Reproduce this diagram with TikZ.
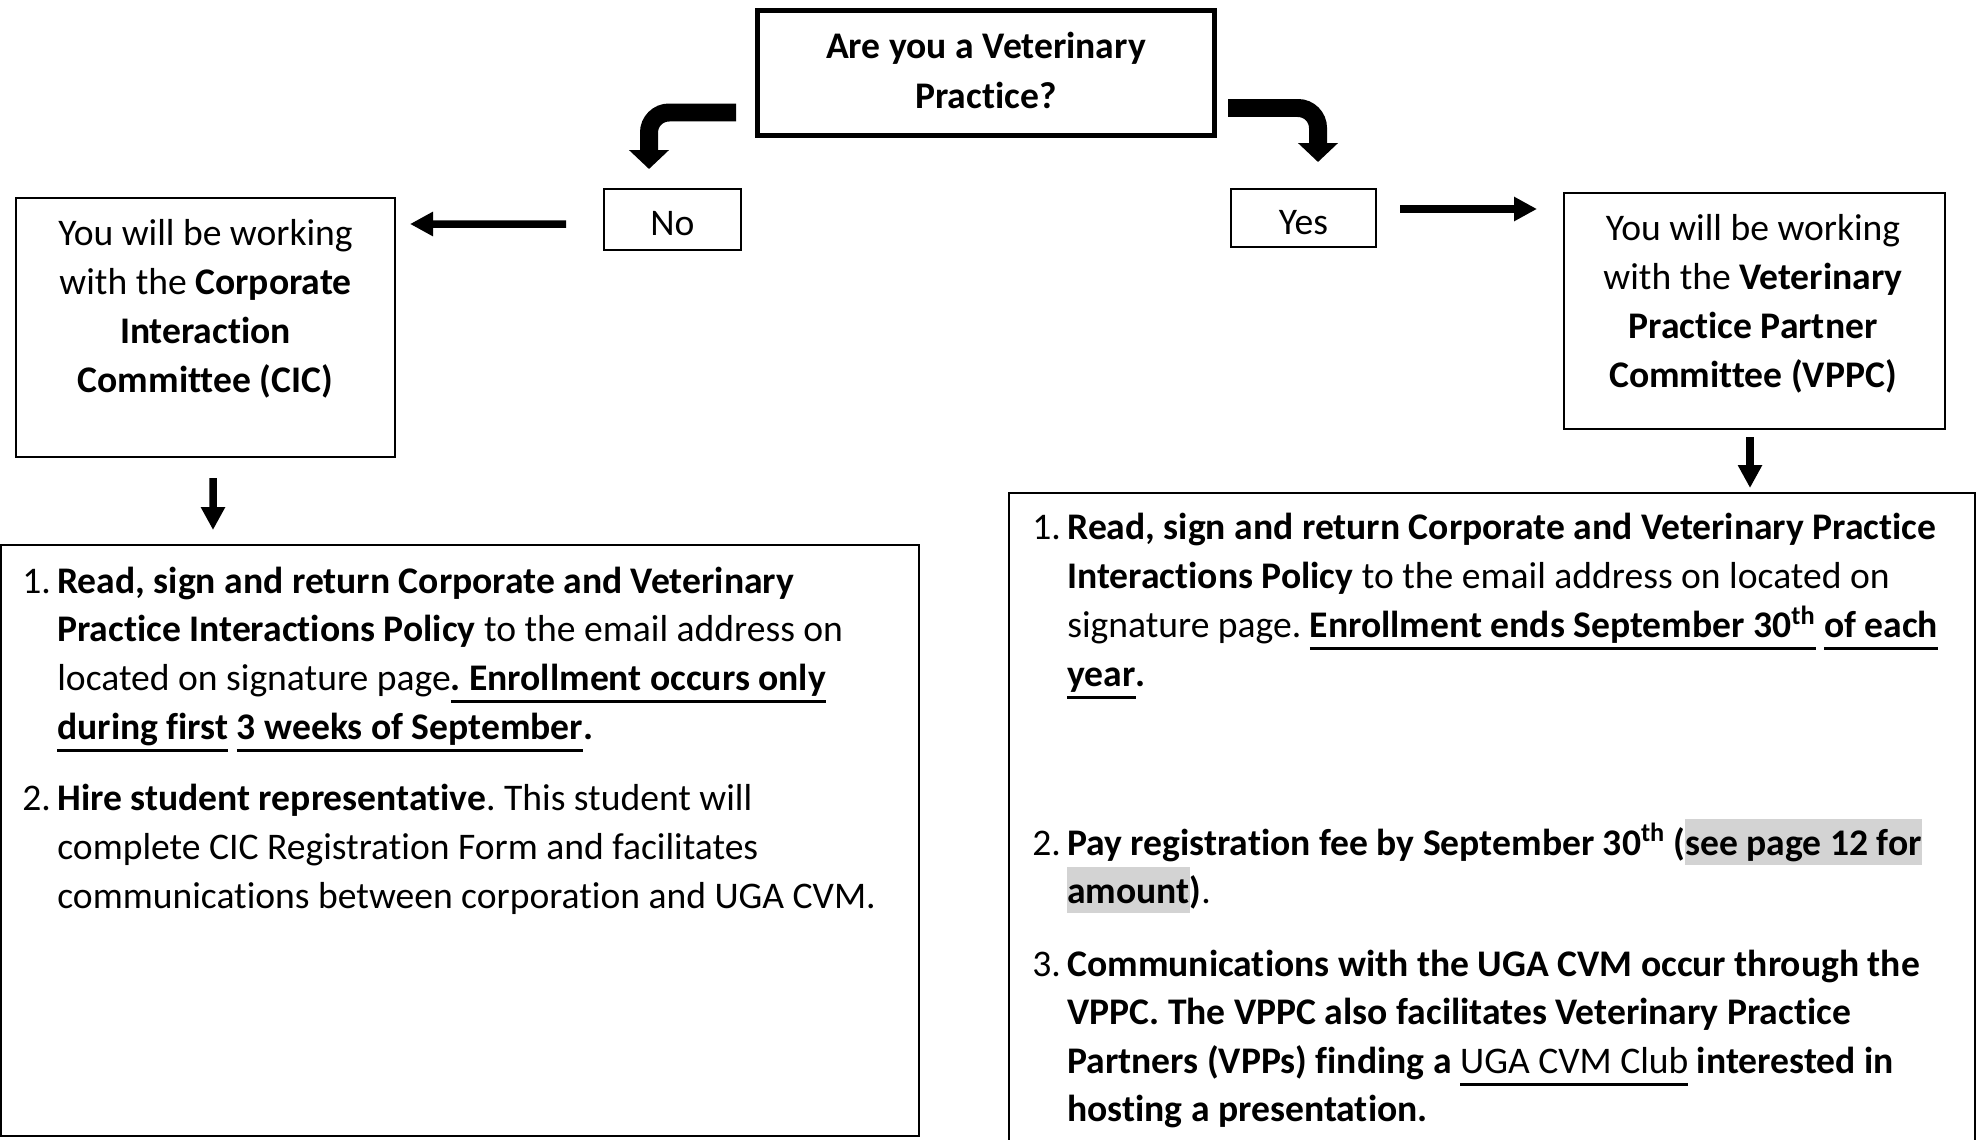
\documentclass[tikz,border=0pt]{standalone}
\usepackage{fontspec}
\setmainfont{Carlito}[Ligatures=NoCommon]
\usepackage{tikz}
\usetikzlibrary{arrows.meta}

\definecolor{hlgray}{RGB}{211,211,211}
\newlength{\pxu}
\setlength{\pxu}{0.02cm}
\newcommand{\ulbar}[1]{\setbox0\hbox{#1}\rlap{\rule[-0.34em]{\wd0}{0.085em}}\box0\relax}
\newcommand{\hlgrey}[1]{{\setlength{\fboxsep}{0pt}\colorbox{hlgray}{\rule[-0.27em]{0pt}{1.22em}#1}}}

\begin{document}
\frenchspacing
\begin{tikzpicture}[x=0.02cm,y=-0.02cm,
  font=\fontsize{21.4pt}{27.6pt}\selectfont,
  box/.style={draw,rectangle,inner sep=0pt,outer sep=0pt,line width=1.1pt},
  qbox/.style={box,line width=0.1cm},
  txt/.style={inner sep=0pt,anchor=base west},
  ctxt/.style={inner sep=0pt,anchor=base},
  fatarrow/.style={line width=0.36cm,rounded corners=0.4cm,-{Triangle[width=0.78cm,length=0.38cm]}},
  thinarrow/.style={line width=0.15cm,-{Triangle[width=0.46cm,length=0.46cm]}}]
  \clip (0,0) rectangle (1977,1139) ; %Picture size

  \node[qbox,minimum width=457\pxu,minimum height=125\pxu] (q) at (986,73) {} ; %Question box
  \node[ctxt] (q1) at (986,58) {\textbf{Are you a Veterinary}} ; %Question line 1
  \node[ctxt] (q2) at (986,108) {\textbf{Practice?}} ; %Question line 2

  \node[box,text depth=0pt,text height=0.62cm,minimum width=137\pxu,minimum height=61\pxu] (no) at (672.5,219.5) {No} ; %No box
  \node[box,text depth=0pt,text height=0.68cm,minimum width=145\pxu,minimum height=58\pxu] (yes) at (1303.5,218) {Yes} ; %Yes box

  \draw[fatarrow] ([shift={(-21.5,39.5)}]q.west) -| ([shift={(-23.5,-20)}]no.north) ; %Bent arrow to No
  \draw[fatarrow] ([shift={(13.5,35)}]q.east) -| ([shift={(14.5,-27)}]yes.north) ; %Bent arrow to Yes

  \node[box,minimum width=379\pxu,minimum height=259\pxu] (cic) at (205.5,327.5) {} ; %CIC box
  \node[ctxt] (cic1) at (205.5,245.5) {You will be working} ; %CIC line 1
  \node[ctxt] (cic2) at (205.5,294.5) {with the \textbf{Corporate}} ; %CIC line 2
  \node[ctxt] (cic3) at (205.5,343.5) {\textbf{Interaction}} ; %CIC line 3
  \node[ctxt] (cic4) at (205.5,392) {\textbf{Committee (CIC)}} ; %CIC line 4

  \node[box,minimum width=381\pxu,minimum height=236\pxu] (vppc) at (1754.5,311) {} ; %VPPC box
  \node[ctxt] (vppc1) at (1753,240.5) {You will be working} ; %VPPC line 1
  \node[ctxt] (vppc2) at (1753,289.5) {with the \textbf{Veterinary}} ; %VPPC line 2
  \node[ctxt] (vppc3) at (1753,338.5) {\textbf{Practice Partner}} ; %VPPC line 3
  \node[ctxt] (vppc4) at (1753,387) {\textbf{Committee (VPPC)}} ; %VPPC line 4

  \draw[thinarrow] ([shift={(-38,4.5)}]no.west) -- ([shift={(15,26)}]cic.north east) ; %No to CIC
  \draw[thinarrow] ([shift={(24,-9)}]yes.east) -- ([shift={(-27,16)}]vppc.north west) ; %Yes to VPPC

  \node[box,minimum width=918\pxu,minimum height=591\pxu] (lbox) at (460,840.5) {} ; %CIC steps box
  \node[box,minimum width=966\pxu,minimum height=667\pxu] (rbox) at (1492,826.5) {} ; %VPPC steps box

  \draw[thinarrow] ([shift={(7.5,21)}]cic.south) -- ([shift={(212,-15)}]lbox.north west) ; %CIC to steps
  \draw[thinarrow] ([shift={(-4.5,8)}]vppc.south) -- ([shift={(741,-5)}]rbox.north west) ; %VPPC to steps

  \node[txt] (ln1) at (22,593) {1.} ; %CIC step 1
  \node[txt] (lt1) at (57,593) {\textbf{Read, sign and return Corporate and Veterinary}} ;
  \node[txt] (lt2) at (57,641.5) {\textbf{Practice Interactions Policy} to the email address on} ;
  \node[txt] (lt3) at (57,690.5) {located on signature page\ulbar{\textbf{. Enrollment occurs only}}} ;
  \node[txt] (lt4) at (57,739) {\ulbar{\textbf{during first}} \ulbar{\textbf{3 weeks of September}}\textbf{.}} ;
  \node[txt] (ln2) at (22,810.5) {2.} ; %CIC step 2
  \node[txt] (lt5) at (57,810.5) {\textbf{Hire student representative}. This student will} ;
  \node[txt] (lt6) at (57,859.5) {complete CIC Registration Form and facilitates} ;
  \node[txt] (lt7) at (57,908.5) {communications between corporation and UGA CVM.} ;

  \node[txt] (rn1) at (1032,539.5) {1.} ; %VPPC step 1
  \node[txt] (rt1) at (1067,539.5) {\textbf{Read, sign and return Corporate and Veterinary Practice}} ;
  \node[txt] (rt2) at (1067,588.5) {\textbf{Interactions Policy} to the email address on located on} ;
  \node[txt] (rt3) at (1067,637.5) {signature page. \ulbar{\textbf{Enrollment ends September 30\textsuperscript{th}}} \ulbar{\textbf{of each}}} ;
  \node[txt] (rt4) at (1067,686.5) {\ulbar{\textbf{year}}\textbf{.}} ;
  \node[txt] (rn2) at (1032,855) {2.} ; %VPPC step 2
  \node[txt] (rt5) at (1067,855) {\textbf{Pay registration fee by September 30\textsuperscript{th} (\hlgrey{see page 12 for}}} ;
  \node[txt] (rt6) at (1067,903) {\textbf{\hlgrey{amount})}.} ;
  \node[txt] (rn3) at (1032,976) {3.} ; %VPPC step 3
  \node[txt] (rt7) at (1067,976) {\textbf{Communications with the UGA CVM occur through the}} ;
  \node[txt] (rt8) at (1067,1024.5) {\textbf{VPPC. The VPPC also facilitates Veterinary Practice}} ;
  \node[txt] (rt9) at (1067,1073) {\textbf{Partners (VPPs) finding a} \ulbar{UGA CVM Club} \textbf{interested in}} ;
  \node[txt] (rt10) at (1067,1121.5) {\textbf{hosting a presentation.}} ;
\end{tikzpicture}
\end{document}
